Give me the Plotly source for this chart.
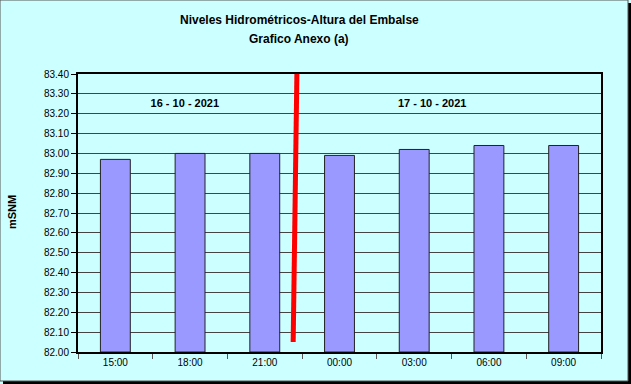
import plotly.graph_objects as go

hours = ["15:00", "18:00", "21:00", "00:00", "03:00", "06:00", "09:00"]
levels = [82.97, 83.00, 83.00, 82.99, 83.02, 83.04, 83.04]
y_ticks = [82.00, 82.10, 82.20, 82.30, 82.40, 82.50, 82.60, 82.70, 82.80, 82.90,
           83.00, 83.10, 83.20, 83.30, 83.40]
divider_x = [2.43, 2.38]
divider_y = [83.41, 82.05]
date_labels = ["16 - 10 - 2021", "17 - 10 - 2021"]
date_x = [0.93, 4.24]
date_y = [83.25, 83.25]

font = "Liberation Sans, Arial, sans-serif"
W, H = 631, 384
L, R, T, B = 78, 30, 74, 32
pw, ph = W - L - R, H - T - B


def px(x):
    return (x - L) / pw


def py(y):
    return (H - B - y) / ph


xs = list(range(len(hours)))

fig = go.Figure()
fig.add_trace(go.Bar(
    x=xs, y=[v - 82.0 for v in levels], base=82.0,
    marker=dict(color="#9999FF", line=dict(color="#222222", width=1)),
    width=0.4, showlegend=False, hoverinfo="skip",
))
fig.add_trace(go.Scatter(
    x=divider_x, y=divider_y, mode="lines",
    line=dict(color="#FF0000", width=5), showlegend=False, cliponaxis=False,
    hoverinfo="skip",
))
fig.add_trace(go.Scatter(
    x=date_x, y=date_y, mode="text", text=[f"<b>{t}</b>" for t in date_labels],
    textfont=dict(family=font, size=11, color="black"), showlegend=False,
    hoverinfo="skip",
))

shapes = [
    # outer frame shadow (right/bottom)
    dict(type="rect", xref="paper", yref="paper", x0=px(3), x1=px(631), y0=py(384), y1=py(3),
         fillcolor="#000000", line=dict(width=0), layer="below"),
    # outer frame
    dict(type="rect", xref="paper", yref="paper", x0=px(0), x1=px(628), y0=py(381), y1=py(0),
         fillcolor="#CCFFFF", line=dict(color="#555555", width=1), layer="below"),
]

fig.update_layout(
    width=W, height=H,
    margin=dict(l=L, r=R, t=T, b=B, pad=0),
    paper_bgcolor="#CCFFFF",
    plot_bgcolor="white",
    shapes=shapes,
    bargap=0.6,
    annotations=[
        dict(text="<b>Niveles Hidrométricos-Altura del Embalse</b>", xref="paper", yref="paper",
             x=px(299), y=py(20), showarrow=False, xanchor="center", yanchor="middle",
             font=dict(family=font, size=12, color="black")),
        dict(text="<b>Grafico Anexo (a)</b>", xref="paper", yref="paper",
             x=px(299), y=py(39), showarrow=False, xanchor="center", yanchor="middle",
             font=dict(family=font, size=12, color="black")),
        dict(text="<b>mSNM</b>", xref="paper", yref="paper",
             x=px(12), y=py(212), showarrow=False, textangle=-90,
             xanchor="center", yanchor="middle",
             font=dict(family=font, size=11, color="black")),
    ],
    xaxis=dict(
        range=[-0.5, 6.5], tickmode="array", tickvals=xs, ticktext=hours,
        ticks="", showgrid=False, zeroline=False,
        showline=True, linecolor="black", linewidth=2, mirror=True,
        tickfont=dict(family=font, size=10, color="black"),
        minor=dict(ticks="outside", tick0=-0.5, dtick=1, ticklen=5, tickcolor="#555555",
                   showgrid=False),
        fixedrange=True,
    ),
    yaxis=dict(
        range=[82.0, 83.4], tickmode="array", tickvals=y_ticks,
        ticktext=[f"{v:.2f}" for v in y_ticks],
        ticks="outside", ticklen=5, tickcolor="black",
        showgrid=True, gridcolor="#444444", gridwidth=1, zeroline=False,
        showline=True, linecolor="black", linewidth=2, mirror=True,
        tickfont=dict(family=font, size=10, color="black"),
        fixedrange=True,
    ),
)

fig.write_html("out.html")
